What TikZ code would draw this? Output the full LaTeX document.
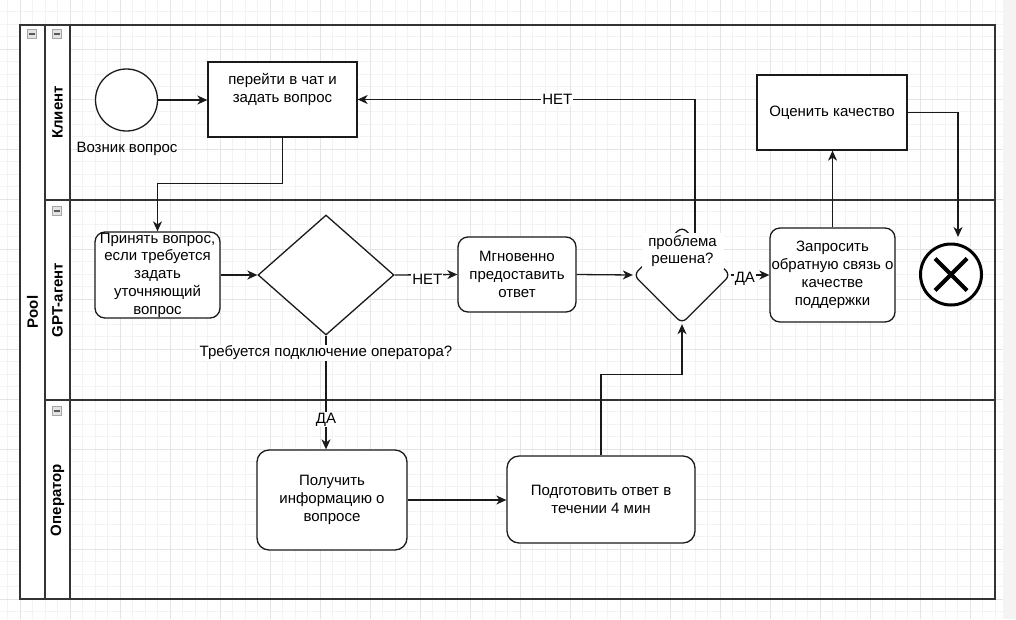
\documentclass[tikz,border=0pt]{standalone}
\usepackage{fontspec}
\setmainfont{Liberation Sans}
\usetikzlibrary{shapes.geometric,arrows.meta,calc}
\definecolor{gridminor}{HTML}{F3F3F3}
\definecolor{gridmajor}{HTML}{E4E4E4}
\definecolor{band}{HTML}{F4F4F4}
\definecolor{ink}{HTML}{1A1A1A}
\begin{document}
\begin{tikzpicture}[x=1pt,y=-1pt,
  every node/.style={font=\fontsize{15}{17.8}\selectfont},
  task/.style={draw=ink, line width=1.3pt, fill=white, align=center, inner sep=0pt},
  rtask/.style={task, rounded corners=10pt},
  gate/.style={draw=ink, line width=1.3pt, fill=white, shape=diamond, inner sep=0pt},
  arr/.style={draw=ink, line width=1.3pt, -{Stealth[length=10pt,width=9pt,inset=3pt]}},
  line/.style={draw=ink, line width=1.3pt},
  elbl/.style={fill=white, inner sep=1pt},
  pool/.style={draw=black!80, line width=2pt},
  lanetitle/.style={rotate=90, font=\fontsize{15}{17.8}\selectfont\bfseries},
  icon/.style={draw=gray!70, fill=gray!22, minimum size=9pt, inner sep=0pt,
    path picture={\draw[black!65, line width=1.5pt]
      ([xshift=-3pt]path picture bounding box.center) -- ([xshift=3pt]path picture bounding box.center);}}
]
\useasboundingbox (0,0) rectangle (1016,619);
% background grid
\fill[band] (1003,0) rectangle (1016,619);
\foreach \k in {-1,...,78}{\draw[gridminor, line width=0.8pt] ({20+12.5*\k},0) -- ({20+12.5*\k},619);}
\foreach \k in {-1,...,47}{\draw[gridminor, line width=0.8pt] (0,{24+12.5*\k}) -- (1003,{24+12.5*\k});}
\foreach \m in {0,...,19}{\draw[gridmajor, line width=0.8pt] ({20+50*\m},0) -- ({20+50*\m},619);}
\foreach \m in {0,...,12}{\draw[gridmajor, line width=0.8pt] (0,{-1+50*\m}) -- (1003,{-1+50*\m});}

% pool and lanes
\fill[white] (20,25) rectangle (70,599);
\draw[pool] (20,25) rectangle (995,599);
\draw[pool] (45,25) -- (45,599);
\draw[pool] (70,25) -- (70,599);
\draw[pool] (45,200) -- (995,200);
\draw[pool] (45,400) -- (995,400);
\node[icon] (ic1) at (32,34) {};
\node[icon] (ic2) at (57,34) {};
\node[icon] (ic3) at (57,211) {};
\node[icon] (ic4) at (57,411) {};
\node[lanetitle] (tpool) at (32.5,312) {Pool};
\node[lanetitle] (tl1) at (57.5,112.5) {Клиент};
\node[lanetitle] (tl2) at (57.5,300) {GPT-агент};
\node[lanetitle] (tl3) at (57.5,500) {Оператор};

% nodes
\node[circle, draw=ink, line width=1.3pt, fill=white, minimum size=62pt, inner sep=0pt] (start) at (126.5,100) {};
\node (startlbl) at (127,149) {Возник вопрос};
\node[task, minimum width=149pt, minimum height=75pt] (b1) at (282.5,99.5) {перейти в чат и\\задать вопрос\\\strut};
\node[rtask, minimum width=125pt, minimum height=86pt] (b2) at (157.5,275) {Принять вопрос,\\если требуется\\задать\\уточняющий\\вопрос};
\node[gate, minimum width=136pt, minimum height=120pt] (d1) at (326,275) {};
\node[rtask, minimum width=118pt, minimum height=75pt] (b3) at (517,274.5) {Мгновенно\\предоставить\\ответ};
\node[gate, rounded corners=6pt, minimum width=97pt, minimum height=97pt] (d2) at (682,275) {};
\node[fill=white, inner sep=0pt, align=center, minimum width=82pt, minimum height=36pt] (d2lbl) at (682.5,251) {проблема\\решена?};
\node[rtask, minimum width=125pt, minimum height=94pt] (b4) at (832.5,275) {Запросить\\обратную связь о\\качестве\\поддержки};
\node[task, minimum width=150pt, minimum height=75pt] (b5) at (832,112.5) {Оценить качество};
\node[circle, draw=black, line width=3pt, fill=white, minimum size=61pt, inner sep=0pt] (end) at (951,274.5) {};
\draw[black, line width=4pt] ($(end.center)+(-16,-16)$) -- ($(end.center)+(16,16)$);
\draw[black, line width=4pt] ($(end.center)+(-16,16)$) -- ($(end.center)+(16,-16)$);
\node[rtask, rounded corners=12pt, minimum width=150pt, minimum height=100pt] (b6) at (332,500) {Получить\\информацию о\\вопросе};
\node[rtask, rounded corners=12pt, minimum width=188pt, minimum height=87pt] (b7) at (601,499.5) {Подготовить ответ в\\течении 4 мин};

% connectors
\draw[arr] (start.east) -- (start.east -| b1.west);
\draw[arr] (b1.south) -- ++(0,46) -| (b2.north);
\draw[arr] (b2.east) -- (d1.west);
\draw[arr] (d1.east) -- node[elbl, pos=0.52, yshift=-5pt] (lnet1) {НЕТ} (b3.west);
\draw[arr] (b3.east) -- (d2.west);
\draw[arr] (d2.east) -- node[elbl, pos=0.36, yshift=-4pt] (lda1) {ДА} (b4.west);
\draw[arr] ([xshift=12.5pt]d2lbl.north) |- node[elbl, pos=0.704] (lnet2) {НЕТ} (b1.east);
\draw[arr] (b4.north) -- (b4.north |- b5.south);
\draw[arr] (b5.east) -| ([xshift=7pt,yshift=5.5pt]end.north);
\draw[arr] (d1.south) -- node[elbl, pos=0.74] (lda2) {ДА} (d1.south |- b6.north);
\draw[arr] (b6.east) -- (b6.east -| b7.west);
\draw[arr] (b7.north) -- ++(0,-81) -| (d2.south);
\node[fill=white, inner sep=1pt] (d1lbl) at (326,353) {Требуется подключение оператора?};
\end{tikzpicture}
\end{document}
